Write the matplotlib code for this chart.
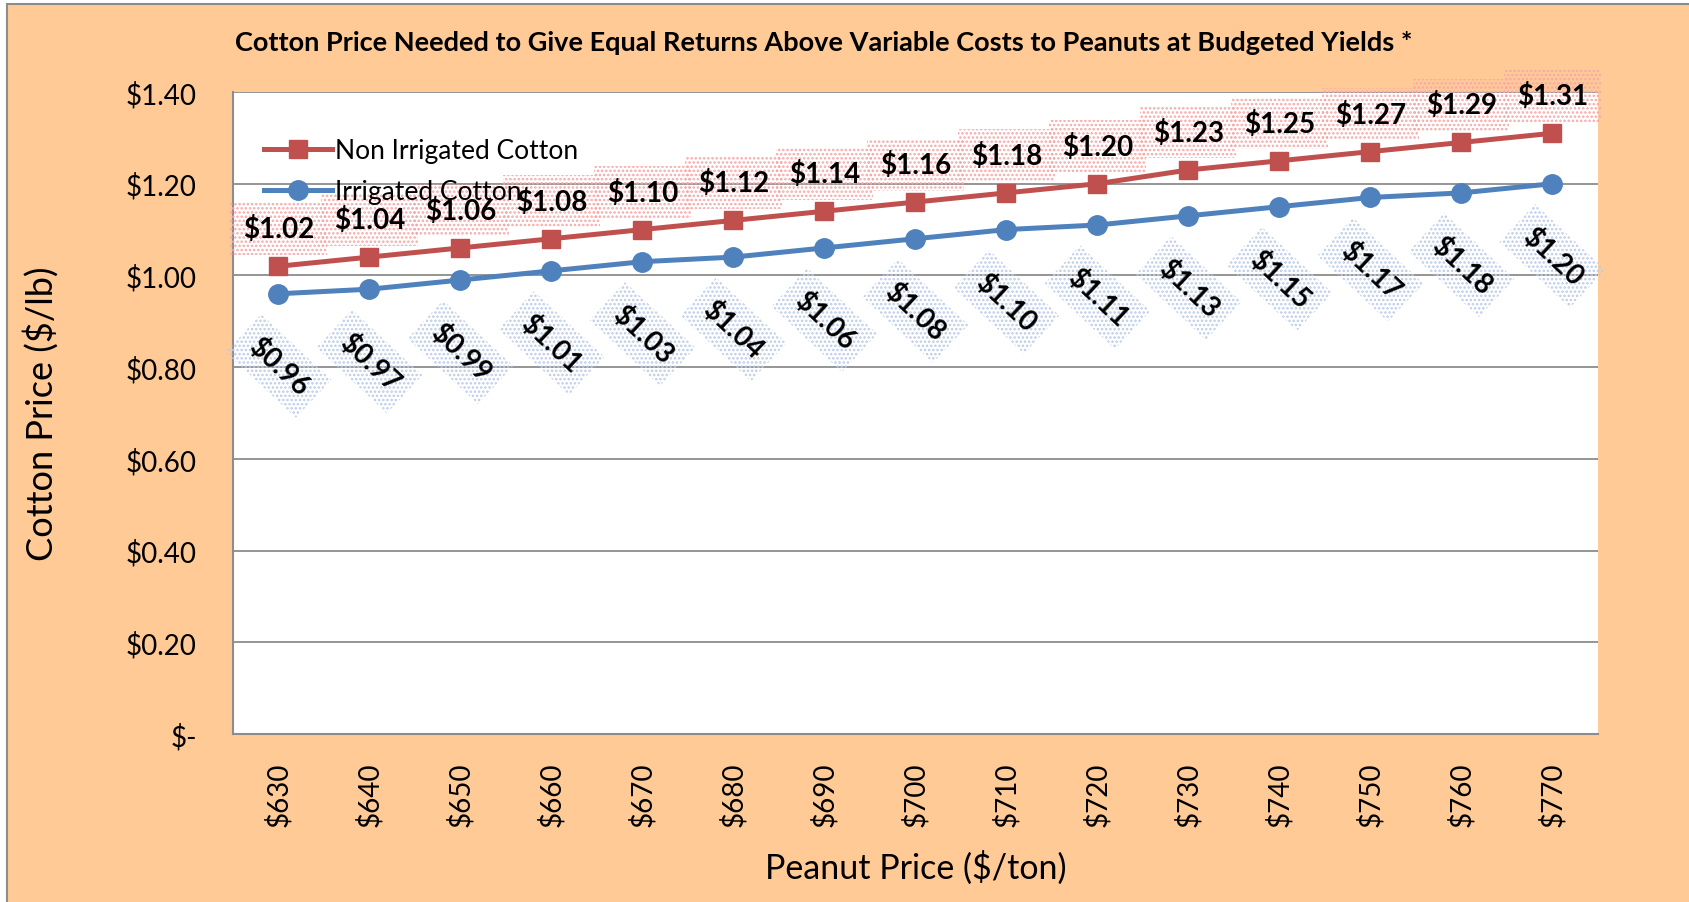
import matplotlib

matplotlib.use("Agg")
import matplotlib.pyplot as plt
from matplotlib.patches import Rectangle

# values
peanut_price = [630, 640, 650, 660, 670, 680, 690, 700, 710, 720, 730, 740, 750, 760, 770]
non_irrigated = [1.02, 1.04, 1.06, 1.08, 1.10, 1.12, 1.14, 1.16, 1.18, 1.20, 1.23, 1.25, 1.27, 1.29, 1.31]
irrigated = [0.96, 0.97, 0.99, 1.01, 1.03, 1.04, 1.06, 1.08, 1.10, 1.11, 1.13, 1.15, 1.17, 1.18, 1.20]
y_ticks = [0.0, 0.2, 0.4, 0.6, 0.8, 1.0, 1.2, 1.4]
y_tick_labels = ["$-", "$0.20", "$0.40", "$0.60", "$0.80", "$1.00", "$1.20", "$1.40"]

RED = "#C0504D"
BLUE = "#4F81BD"
PEACH = "#FFCA96"

plt.rcParams["font.family"] = ["Lato", "DejaVu Sans"]
plt.rcParams["hatch.linewidth"] = 1.2

fig = plt.figure(figsize=(16.9, 9.03), dpi=100)
fig.patch.set_facecolor("white")
fig.patches.append(Rectangle((7 / 1690, -0.05), 1.1, 1.05 - 5 / 903, transform=fig.transFigure,
                             facecolor=PEACH, edgecolor="#8c8c8c", lw=1.5, zorder=-10))

ax = fig.add_axes([233 / 1690, 1 - 735 / 903, (1598 - 233) / 1690, (735 - 93) / 903])
ax.set_facecolor("white")

x = list(range(len(peanut_price)))
ax.plot(x, non_irrigated, color=RED, lw=3.6, marker="s", ms=12.5, label="Non Irrigated Cotton", zorder=3)
ax.plot(x, irrigated, color=BLUE, lw=3.6, marker="o", ms=14, label="Irrigated Cotton", zorder=3)

# data labels: red dotted boxes above, rotated blue dotted boxes below
for xi, v in zip(x, non_irrigated):
    ax.annotate(f"${v:.2f}", (xi, v), xytext=(0, 27), textcoords="offset points",
                ha="center", va="center", fontsize=20, fontweight="bold", zorder=5,
                bbox=dict(boxstyle="square,pad=0.45", facecolor="none", edgecolor="#F5A8A8",
                          hatch="....", lw=0))
for xi, v in zip(x, irrigated):
    ax.annotate(f"${v:.2f}", (xi, v), xytext=(0, -52), textcoords="offset points",
                ha="center", va="center", fontsize=20, fontweight="bold", rotation=-43,
                rotation_mode="anchor", zorder=5,
                bbox=dict(boxstyle="square,pad=0.45", facecolor="none", edgecolor="#BCCBE6",
                          hatch="....", lw=0))

ax.set_xlim(-0.5, len(x) - 0.5)
ax.set_ylim(0, 1.4)
ax.set_yticks(y_ticks)
ax.set_yticklabels(y_tick_labels)
ax.set_xticks(x)
ax.set_xticklabels([f"${p}" for p in peanut_price], rotation=90)
ax.tick_params(axis="y", labelsize=20, length=0, pad=26)
ax.tick_params(axis="x", labelsize=20, length=0, pad=20)
ax.yaxis.grid(True, color="#8c8c8c", lw=1.3)
ax.set_axisbelow(True)
for s in ["top", "right"]:
    ax.spines[s].set_visible(False)
for s in ["left", "bottom"]:
    ax.spines[s].set_color("#8c8c8c")
    ax.spines[s].set_linewidth(1.5)

ax.set_ylabel("Cotton Price ($/lb)", fontsize=26)
ax.yaxis.set_label_coords(-0.128, 0.5)
ax.set_xlabel("Peanut Price ($/ton)", fontsize=24.5)
ax.xaxis.set_label_coords(0.5, -0.18)
fig.text(824 / 1690, 1 - 43 / 903,
         "Cotton Price Needed to Give Equal Returns Above Variable Costs to Peanuts at Budgeted Yields *",
         ha="center", va="center", fontsize=19.5, fontweight="bold")

ax.legend(loc="upper left", bbox_to_anchor=(0.005, 0.965), frameon=False, fontsize=19,
          handlelength=2.6, labelspacing=0.6, handletextpad=0.1)

fig.savefig("out.png", dpi=100)
